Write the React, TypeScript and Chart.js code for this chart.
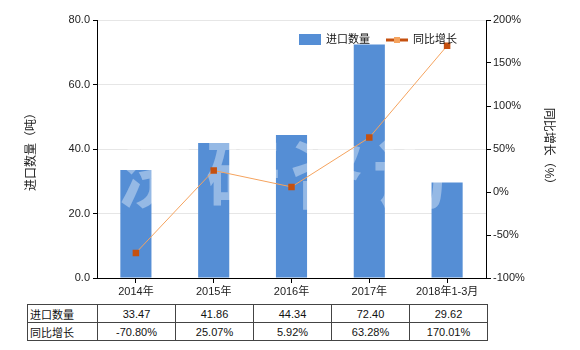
import React, { useEffect, useRef } from 'react';
import { Chart, registerables } from 'chart.js';

Chart.register(...registerables);

const categories = ['2014年', '2015年', '2016年', '2017年', '2018年1-3月'];
const importQty = [33.47, 41.86, 44.34, 72.4, 29.62];
const yoyGrowth = [-70.8, 25.07, 5.92, 63.28, 170.01];
const seriesNames = ['进口数量', '同比增长'];
const leftTitle = '进口数量（吨）';
const rightTitle = '同比增长（%）';
const watermark = ['济', '研', '咨', '询'];

const FONT = '"Liberation Sans", "Noto Sans CJK SC", sans-serif';
const BAR_COLOR = '#558ED5';
const LINE_COLOR = '#F5A35E';
const POINT_COLOR = '#C5500F';

const overlayPlugin = {
  id: 'overlay',
  afterDatasetDraw(chart: any, args: any) {
    if (args.index !== 0) return;
    const { ctx, chartArea } = chart;
    ctx.save();
    ctx.font = `bold 74px "Noto Sans CJK SC", sans-serif`;
    ctx.fillStyle = 'rgba(255,255,255,0.38)';
    ctx.textAlign = 'center';
    ctx.textBaseline = 'middle';
    const offs = [58, 146, 230, 313];
    watermark.forEach((c, i) => {
      ctx.fillText(c, chartArea.left + offs[i], chartArea.top + 154);
    });
    ctx.restore();
  },
  afterDraw(chart: any) {
    const { ctx, chartArea } = chart;
    ctx.save();
    const y = chartArea.top + 20;
    const x0 = chartArea.left + 202;
    ctx.font = `11px ${FONT}`;
    ctx.textBaseline = 'middle';
    ctx.fillStyle = BAR_COLOR;
    ctx.fillRect(x0, y - 6, 22, 11);
    ctx.fillStyle = '#111';
    ctx.fillText(seriesNames[0], x0 + 27, y);
    const x1 = x0 + 87;
    ctx.strokeStyle = POINT_COLOR;
    ctx.lineWidth = 3;
    ctx.beginPath();
    ctx.moveTo(x1, y);
    ctx.lineTo(x1 + 22, y);
    ctx.stroke();
    ctx.fillStyle = '#F5A35E';
    ctx.fillRect(x1 + 8, y - 3, 6, 6);
    ctx.fillStyle = '#111';
    ctx.fillText(seriesNames[1], x1 + 27, y);
    ctx.restore();
  },
};

export default function App() {
  const ref = useRef<HTMLCanvasElement>(null);

  useEffect(() => {
    if (!ref.current) return;
    const chart = new Chart(ref.current, {
      type: 'bar',
      data: {
        labels: categories,
        datasets: [
          {
            type: 'bar',
            label: seriesNames[0],
            data: importQty,
            backgroundColor: BAR_COLOR,
            yAxisID: 'y',
            barPercentage: 0.4,
            categoryPercentage: 1,
            order: 1,
          } as any,
          {
            type: 'line',
            label: seriesNames[1],
            data: yoyGrowth,
            yAxisID: 'y1',
            borderColor: LINE_COLOR,
            borderWidth: 1,
            pointStyle: 'rect',
            pointRadius: 4.6,
            pointBackgroundColor: POINT_COLOR,
            pointBorderColor: POINT_COLOR,
            pointBorderWidth: 0,
            tension: 0,
            order: 0,
          } as any,
        ],
      },
      options: {
        animation: false,
        responsive: false,
        maintainAspectRatio: false,
        layout: { padding: { top: 20, left: 0, right: 0, bottom: 0 } },
        plugins: { legend: { display: false }, tooltip: { enabled: false } },
        scales: {
          x: {
            grid: { drawOnChartArea: false, offset: false, tickLength: 5, color: '#000' },
            border: { color: '#000' },
            ticks: { color: '#222', font: { size: 11, family: FONT }, padding: 2, maxRotation: 0, autoSkip: false },
            afterFit: (s: any) => { s.height = 22; },
          },
          y: {
            position: 'left',
            min: 0,
            max: 80,
            ticks: {
              stepSize: 20,
              color: '#222',
              font: { size: 11, family: FONT },
              padding: 3,
              callback: (v: any) => Number(v).toFixed(1),
            },
            grid: { color: '#E6E6E6', tickColor: '#000', tickLength: 4 },
            border: { color: '#000' },
            title: {
              display: true,
              text: leftTitle,
              color: '#222',
              font: { size: 12, family: FONT },
              padding: { top: 24, bottom: 0 },
            },
            afterFit: (s: any) => { s.width = 97; },
          },
          y1: {
            position: 'right',
            min: -100,
            max: 200,
            ticks: {
              stepSize: 50,
              color: '#222',
              font: { size: 11, family: FONT },
              padding: 2,
              callback: (v: any) => `${v}%`,
            },
            grid: { drawOnChartArea: false, tickLength: 5, color: '#000' },
            border: { color: '#000' },
            title: {
              display: true,
              text: rightTitle,
              color: '#222',
              font: { size: 12, family: FONT },
              padding: { top: 24, bottom: 0 },
            },
            afterFit: (s: any) => { s.width = 94; },
          },
        },
      } as any,
      plugins: [overlayPlugin],
    });
    return () => chart.destroy();
  }, []);

  const cell: React.CSSProperties = {
    border: '1px solid #444',
    padding: 0,
    height: 17,
    textAlign: 'center',
    fontSize: 11,
    color: '#111',
    width: 77,
  };
  const head: React.CSSProperties = { ...cell, textAlign: 'left', paddingLeft: 2, width: 67 };

  return (
    <div style={{ position: 'absolute', left: 0, top: 0, width: 580, height: 350, background: '#fff', fontFamily: FONT }}>
      <canvas ref={ref} width={580} height={300} style={{ position: 'absolute', left: 0, top: 0, width: 580, height: 300 }} />
      <table
        style={{
          position: 'absolute',
          left: 27,
          top: 304,
          width: 459,
          borderCollapse: 'collapse',
          tableLayout: 'fixed',
          fontFamily: FONT,
        }}
      >
        <tbody>
          <tr>
            <td style={head}>{seriesNames[0]}</td>
            {importQty.map((v, i) => (
              <td key={i} style={cell}>{v.toFixed(2)}</td>
            ))}
          </tr>
          <tr>
            <td style={head}>{seriesNames[1]}</td>
            {yoyGrowth.map((v, i) => (
              <td key={i} style={cell}>{v.toFixed(2)}%</td>
            ))}
          </tr>
        </tbody>
      </table>
    </div>
  );
}
